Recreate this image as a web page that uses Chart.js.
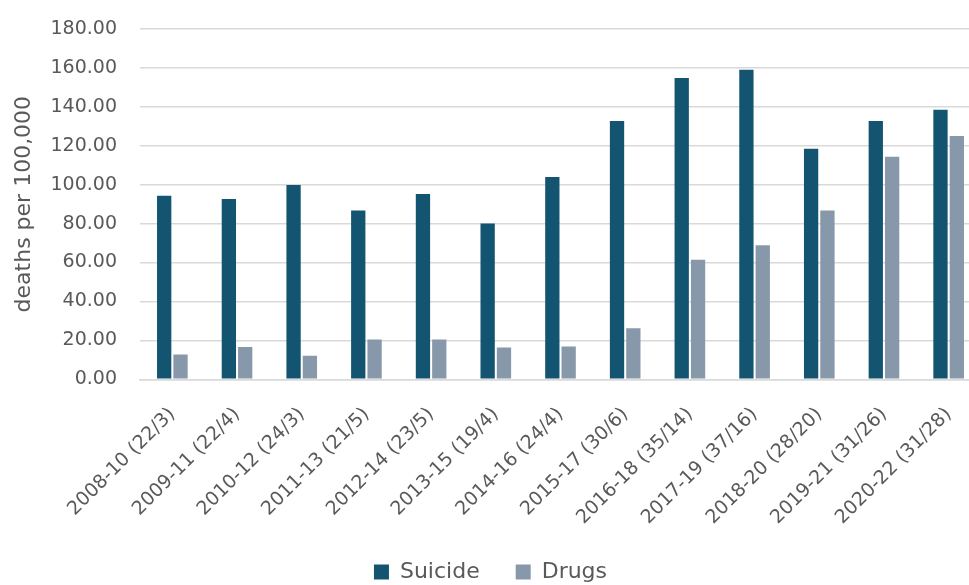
<!DOCTYPE html>
<html>
<head>
<meta charset="utf-8">
<script src="https://cdn.jsdelivr.net/npm/chart.js@4"></script>
<style>
html,body{margin:0;padding:0;background:#fff;overflow:hidden;width:969px;height:585px;}
#wrap{position:absolute;left:0;top:0;width:996px;height:585px;}
</style>
</head>
<body>
<div id="wrap"><canvas id="c" width="996" height="585"></canvas></div>
<script>
const categories = ['2008-10 (22/3)','2009-11 (22/4)','2010-12 (24/3)','2011-13 (21/5)','2012-14 (23/5)','2013-15 (19/4)','2014-16 (24/4)','2015-17 (30/6)','2016-18 (35/14)','2017-19 (37/16)','2018-20 (28/20)','2019-21 (31/26)','2020-22 (31/28)'];
const suicide = [94.3, 92.7, 99.8, 86.7, 95.2, 80.0, 103.9, 132.7, 154.8, 159.1, 118.5, 132.7, 138.5];
const drugs = [12.7, 16.6, 12.1, 20.4, 20.4, 16.3, 16.8, 26.2, 61.4, 68.9, 86.7, 114.3, 125.0];
const yTicks = [0, 20, 40, 60, 80, 100, 120, 140, 160, 180];
const yTitle = 'deaths per 100,000';

const FONT = 'DejaVu Sans';
const TXT = '#595959';
const GRID = '#d9d9d9';

new Chart(document.getElementById('c'), {
  type: 'bar',
  data: {
    labels: categories,
    datasets: [
      {label: 'Suicide', data: suicide, backgroundColor: '#135470', categoryPercentage: 0.505, barPercentage: 0.875},
      {label: 'Drugs', data: drugs, backgroundColor: '#8798aa', categoryPercentage: 0.505, barPercentage: 0.875}
    ]
  },
  options: {
    responsive: false,
    animation: false,
    devicePixelRatio: 1,
    layout: {padding: {top: 29, right: 15, left: 0, bottom: -8}},
    plugins: {
      tooltip: {enabled: false},
      legend: {
        position: 'bottom',
        labels: {
          boxWidth: 15, boxHeight: 15, padding: 36,
          color: TXT, font: {family: FONT, size: 22}
        }
      }
    },
    scales: {
      x: {
        grid: {display: false},
        border: {display: true, color: GRID, width: 1.5},
        ticks: {
          color: TXT, font: {family: FONT, size: 19},
          minRotation: 45, maxRotation: 45, autoSkip: false, padding: 16
        },
        afterFit: (s) => { s.height = 145.7; }
      },
      y: {
        min: 0, max: 180,
        afterBuildTicks: (s) => { s.ticks = yTicks.map(v => ({value: v})); },
        grid: {color: GRID, lineWidth: 1.5, drawTicks: false},
        border: {display: false},
        ticks: {
          color: TXT, font: {family: FONT, size: 19}, padding: 23,
          callback: (v) => Number(v).toFixed(2)
        },
        title: {
          display: true, text: yTitle, color: TXT,
          font: {family: FONT, size: 22}, padding: {top: 11, bottom: 0}
        },
        afterFit: (s) => { s.width = 140; s.paddingTop = 0; s.paddingBottom = 0; }
      }
    }
  }
});
</script>
</body>
</html>
